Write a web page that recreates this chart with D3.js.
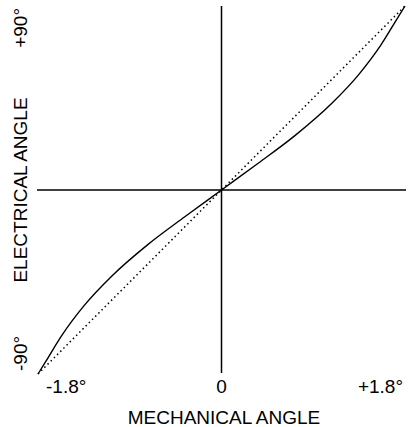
<!DOCTYPE html>
<html>
<head>
<meta charset="utf-8">
<script src="https://cdn.jsdelivr.net/npm/d3@7"></script>
<style>
  html, body { margin: 0; padding: 0; background: #fff; }
  svg text { font-family: "Liberation Sans", Arial, sans-serif; font-size: 19px; fill: #000; }
</style>
</head>
<body>
<svg id="chart" width="408" height="427"></svg>
<script>
// Mechanical angle (deg) vs electrical angle (deg)
const mechAngle = [-1.8, -1.728, -1.566, -1.35, -1.08, -0.72, -0.36, 0, 0.36, 0.72, 1.08, 1.35, 1.566, 1.728, 1.8];
const elecAngle = [-90, -84.2, -71.1, -56.7, -42.3, -26.6, -13.1, 0, 13.1, 26.6, 42.3, 56.7, 71.1, 84.2, 90];
const idealMech = [-1.8, 1.8];
const idealElec = [-90, 90];

const xTicks = [
  { value: -1.8, label: '-1.8°', anchor: 'start', dx: 8 },
  { value: 0, label: '0', anchor: 'middle', dx: 0 },
  { value: 1.8, label: '+1.8°', anchor: 'end', dx: -2 }
];
const yTicks = [
  { value: 90, label: '+90°', anchor: 'end' },
  { value: -90, label: '-90°', anchor: 'start' }
];

const svg = d3.select('#chart');

const x = d3.scaleLinear().domain([-1.8, 1.8]).range([38, 405]);
const y = d3.scaleLinear().domain([-90, 90]).range([374, 6]);

// crossing axes
svg.append('line')
    .attr('x1', x(0)).attr('x2', x(0))
    .attr('y1', y(90)).attr('y2', y(-90) - 1)
    .attr('stroke', '#000').attr('stroke-width', 1.5);

svg.append('line')
    .attr('x1', x(-1.8) - 1).attr('x2', x(1.8) + 1)
    .attr('y1', y(0)).attr('y2', y(0))
    .attr('stroke', '#000').attr('stroke-width', 1.5);

// ideal linear relation (dotted)
svg.append('path')
    .datum(d3.zip(idealMech, idealElec))
    .attr('d', d3.line().x(d => x(d[0])).y(d => y(d[1])))
    .attr('fill', 'none')
    .attr('stroke', '#000')
    .attr('stroke-width', 1.5)
    .attr('stroke-dasharray', '1.5,3');

// actual relation
svg.append('path')
    .datum(d3.zip(mechAngle, elecAngle))
    .attr('d', d3.line().curve(d3.curveMonotoneX).x(d => x(d[0])).y(d => y(d[1])))
    .attr('fill', 'none')
    .attr('stroke', '#000')
    .attr('stroke-width', 1.4);

// x tick labels
svg.selectAll('.xt')
    .data(xTicks)
    .join('text')
    .attr('class', 'xt')
    .attr('x', d => x(d.value) + d.dx)
    .attr('y', 393)
    .attr('text-anchor', d => d.anchor)
    .text(d => d.label);

// y tick labels (rotated)
svg.selectAll('.yt')
    .data(yTicks)
    .join('text')
    .attr('class', 'yt')
    .attr('transform', d => `translate(27,${d.value > 0 ? 8 : 371}) rotate(-90)`)
    .attr('text-anchor', d => d.anchor)
    .text(d => d.label);

// axis titles
svg.append('text')
    .attr('x', 224)
    .attr('y', 424)
    .attr('text-anchor', 'middle')
    .text('MECHANICAL ANGLE');

svg.append('text')
    .attr('transform', 'translate(27,190) rotate(-90)')
    .attr('text-anchor', 'middle')
    .text('ELECTRICAL ANGLE');
</script>
</body>
</html>
